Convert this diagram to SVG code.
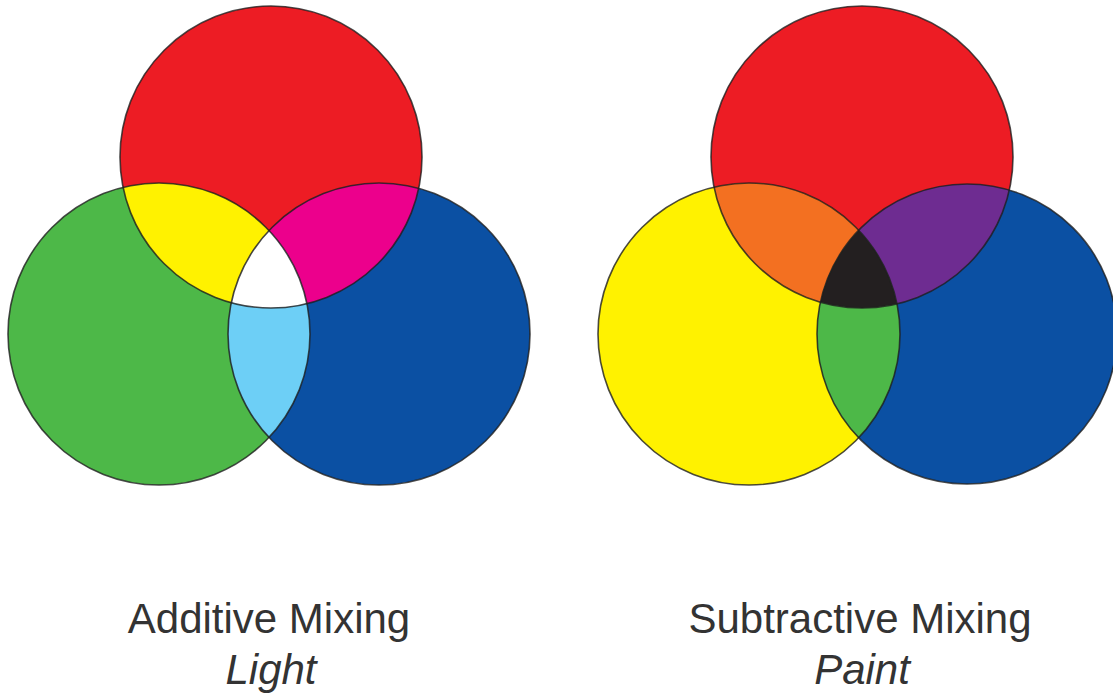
<svg xmlns="http://www.w3.org/2000/svg" width="1113" height="693" viewBox="0 0 1113 693">
<style>
.ol{fill:none;stroke:#1e1e1e;stroke-opacity:0.8;stroke-width:1.6}
.t{font-family:"Liberation Sans",Arial,sans-serif;font-size:42px;fill:#333;text-anchor:middle}
.i{font-style:italic}
</style>
<defs>
<circle id="aR" cx="271" cy="157" r="151"/>
<circle id="aG" cx="159" cy="334" r="151"/>
<circle id="aB" cx="379" cy="334" r="151"/>
<circle id="sR" cx="862" cy="157" r="151"/>
<circle id="sY" cx="749" cy="334" r="151"/>
<circle id="sB" cx="967" cy="334" r="150"/>
<clipPath id="cAR"><use href="#aR"/></clipPath>
<clipPath id="cAG"><use href="#aG"/></clipPath>
<clipPath id="cAB"><use href="#aB"/></clipPath>
<clipPath id="cSR"><use href="#sR"/></clipPath>
<clipPath id="cSY"><use href="#sY"/></clipPath>
<clipPath id="cSB"><use href="#sB"/></clipPath>
</defs>
<rect width="1113" height="693" fill="#fff"/>
<g id="additive">
<use href="#aR" fill="#ED1C24"/>
<use href="#aG" fill="#4DB848"/>
<use href="#aB" fill="#0B50A3"/>
<g clip-path="url(#cAR)"><use href="#aG" fill="#FFF200"/><use href="#aB" fill="#EC008C"/></g>
<g clip-path="url(#cAG)"><use href="#aB" fill="#6DCFF6"/></g>
<g clip-path="url(#cAR)"><g clip-path="url(#cAG)"><use href="#aB" fill="#FFFFFF"/></g></g>
<use href="#aR" class="ol"/>
<use href="#aG" class="ol"/>
<use href="#aB" class="ol"/>
</g>
<g id="subtractive">
<use href="#sR" fill="#ED1C24"/>
<use href="#sY" fill="#FFF200"/>
<use href="#sB" fill="#0B50A3"/>
<g clip-path="url(#cSR)"><use href="#sY" fill="#F37021"/><use href="#sB" fill="#6E2C91"/></g>
<g clip-path="url(#cSY)"><use href="#sB" fill="#4DB848"/></g>
<g clip-path="url(#cSR)"><g clip-path="url(#cSY)"><use href="#sB" fill="#231F20"/></g></g>
<use href="#sR" class="ol"/>
<use href="#sY" class="ol"/>
<use href="#sB" class="ol"/>
</g>
<g id="labels">
<text class="t" x="269" y="633">Additive Mixing</text>
<text class="t i" x="271" y="684">Light</text>
<text class="t" x="860" y="633">Subtractive Mixing</text>
<text class="t i" x="862" y="684">Paint</text>
</g>
</svg>
